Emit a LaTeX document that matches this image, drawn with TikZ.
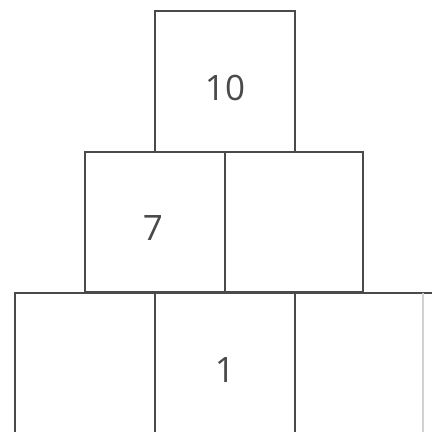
\documentclass[tikz,border=0pt]{standalone}
\usepackage{fontspec}
\setmainfont{Open Sans}
\definecolor{ink}{HTML}{4A4A4A}
\begin{document}
\begin{tikzpicture}[x=1pt,y=-1pt,
  cell/.style={draw=ink,line width=2.8pt},
  num/.style={text=ink,font=\fontsize{35}{38}\selectfont}]
\useasboundingbox (0,0) rectangle (432,432);
\clip (0,0) rectangle (432,432);
% top
\draw[cell] (155,11) rectangle (295,152);
% middle
\draw[cell] (85,152) rectangle (225,292);
\draw[cell] (225,152) rectangle (363,292);
% bottom
\draw[cell] (15,445) -- (15,293) -- (432,293);
\draw[cell] (155,293) -- (155,445);
\draw[cell] (295,293) -- (295,445);
\draw[draw=ink!25,line width=1.2pt] (423,293) -- (423,445);
\node[num] (a) at (225,88) {10};
\node[num] (b) at (153,228) {7};
\node[num] (c) at (225,370) {1};
\end{tikzpicture}
\end{document}
